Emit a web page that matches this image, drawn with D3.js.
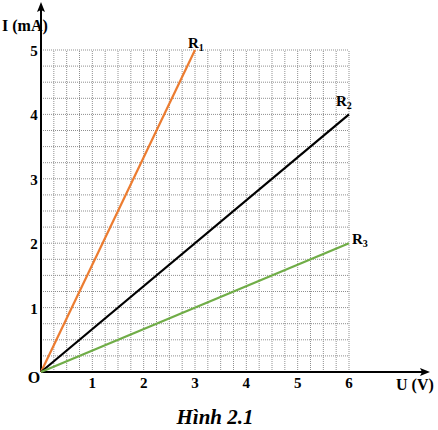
<!DOCTYPE html>
<html><head><meta charset="utf-8">
<script src="https://cdn.jsdelivr.net/npm/d3@7"></script>
<style>body{margin:0;background:#fff}svg{display:block}</style>
</head><body>
<script>
const xTicks = [1, 2, 3, 4, 5, 6];
const yTicks = [1, 2, 3, 4, 5];
const seriesNames = ["R1", "R2", "R3"];
const seriesColors = ["#ec7c30", "#000000", "#70ad47"];
const seriesEndU = [3, 6, 6];
const seriesEndI = [5, 4, 2];

const FONT = "'Liberation Serif', 'Times New Roman', Times, 'DejaVu Serif', serif";
const W = 438, H = 430;
const svg = d3.select("body").append("svg").attr("width", W).attr("height", H)
  .attr("font-family", FONT).attr("font-weight", "bold");
const x = d3.scaleLinear().domain([0, 6]).range([41, 349]);
const y = d3.scaleLinear().domain([0, 5]).range([372, 50]);

// grid
const g = svg.append("g");
const xs = d3.range(1, 25).map(i => i / 4);
const ys = d3.range(1, 21).map(i => i / 4);
g.selectAll(".vx").data(xs).join("line")
  .attr("x1", d => x(d)).attr("x2", d => x(d)).attr("y1", y(0)).attr("y2", y(5))
  .attr("stroke", "#8f8f8f").attr("stroke-width", 1).attr("stroke-dasharray", "1,1");
g.selectAll(".hy").data(ys).join("line")
  .attr("x1", x(0)).attr("x2", x(6)).attr("y1", d => y(d)).attr("y2", d => y(d))
  .attr("stroke", "#8f8f8f").attr("stroke-width", 1).attr("stroke-dasharray", "1,1");

// axes
svg.append("line").attr("x1", x(0)).attr("x2", 424).attr("y1", y(0)).attr("y2", y(0)).attr("stroke", "#000").attr("stroke-width", 2);
svg.append("path").attr("d", `M430,${y(0)} L420,${y(0)-4} L422,${y(0)} L420,${y(0)+4}Z`).attr("fill", "#000");
svg.append("line").attr("x1", x(0)).attr("x2", x(0)).attr("y1", y(0)).attr("y2", 8).attr("stroke", "#000").attr("stroke-width", 2);
svg.append("path").attr("d", `M${x(0)},2 L${x(0)-4},12 L${x(0)},10 L${x(0)+4},12Z`).attr("fill", "#000");

// lines
const data = seriesNames.map((n, i) => ({name: n, color: seriesColors[i], pts: [[0, 0], [seriesEndU[i], seriesEndI[i]]]}));
const line = d3.line().x(d => x(d[0])).y(d => y(d[1]));
svg.selectAll(".ser").data(data).join("path")
  .attr("d", d => line(d.pts)).attr("stroke", d => d.color).attr("stroke-width", 2.2).attr("fill", "none");

// series labels
const lblOff = [[-7, -2], [-13, -8], [3, 1]];
data.forEach((d, i) => {
  const t = svg.append("text").attr("x", x(seriesEndU[i]) + lblOff[i][0]).attr("y", y(seriesEndI[i]) + lblOff[i][1])
    .attr("font-size", 15).attr("fill", "#000");
  t.append("tspan").text("R");
  t.append("tspan").text(d.name.slice(1)).attr("font-size", 10).attr("dy", 3);
});

// tick labels
svg.selectAll(".xt").data(xTicks).join("text")
  .attr("x", d => x(d)).attr("y", 388).attr("text-anchor", "middle").attr("font-size", 15).text(d => d);
svg.selectAll(".yt").data(yTicks).join("text")
  .attr("x", 34).attr("y", d => y(d) + 6).attr("text-anchor", "middle").attr("font-size", 15).text(d => d);
svg.append("text").attr("x", 34).attr("y", 383).attr("text-anchor", "middle").attr("font-size", 16).text("O");
svg.append("text").attr("x", 2).attr("y", 31).attr("font-size", 16).text("I (mA)");
svg.append("text").attr("x", 396).attr("y", 390).attr("font-size", 16).text("U (V)");
svg.append("text").attr("x", 215).attr("y", 424).attr("text-anchor", "middle").attr("font-size", 21).attr("font-style", "italic").text("Hình 2.1");
</script>
</body></html>
